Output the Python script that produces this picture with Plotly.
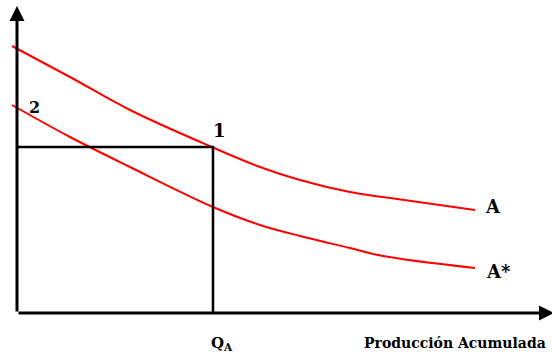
import plotly.graph_objects as go

# Cumulative production (x) and unit cost (y), arbitrary units
x_A = [-5, 53, 113, 196, 243, 283, 333, 366, 458]
y_A = [267, 236, 203, 165.5, 146, 133, 121, 116, 103]
x_Astar = [-5, 53, 113, 196, 243, 283, 333, 366, 458]
y_Astar = [208, 176, 146, 106, 88, 77, 65, 57, 45]
Q_A = 196
cost_1 = 166

X_MIN, X_MAX = -17, 535
Y_MIN, Y_MAX = -43, 313

RED = "#FF0000"
FONT = "DejaVu Serif"

fig = go.Figure()
fig.add_trace(go.Scatter(x=x_A, y=y_A, mode="lines",
                         line=dict(color=RED, width=2, shape="spline", smoothing=1.0),
                         hoverinfo="skip", showlegend=False))
fig.add_trace(go.Scatter(x=x_Astar, y=y_Astar, mode="lines",
                         line=dict(color=RED, width=2, shape="spline", smoothing=1.0),
                         hoverinfo="skip", showlegend=False))

# guide lines to point 1
fig.add_trace(go.Scatter(x=[0, Q_A, Q_A], y=[cost_1, cost_1, 0], mode="lines",
                         line=dict(color="black", width=2.5),
                         hoverinfo="skip", showlegend=False))

# axes with arrows
fig.add_annotation(x=0, y=Y_MAX - 6, ax=0, ay=0, xref="x", yref="y", axref="x", ayref="y",
                   showarrow=True, arrowhead=2, arrowsize=1, arrowwidth=3, arrowcolor="black", text="")
fig.add_annotation(x=X_MAX + 2, y=0, ax=0, ay=0, xref="x", yref="y", axref="x", ayref="y",
                   showarrow=True, arrowhead=2, arrowsize=1, arrowwidth=3, arrowcolor="black", text="")

def label(txt, x, y, size, xanchor="center"):
    fig.add_annotation(x=x, y=y, xref="x", yref="y", text=txt, showarrow=False,
                       xanchor=xanchor, yanchor="middle",
                       font=dict(family=FONT, size=size, color="black"))

label("<b>1</b>", 202, 182.5, 18)
label("<b>2</b>", 17.5, 206, 16)
label("<b>A</b>", 476, 107, 18)
label("<b>A*</b>", 481, 42, 18)
label("<b>Q<sub>A</sub></b>", 205, -30, 15)
label("<b>Producción Acumulada</b>", 345, -30, 14, xanchor="left")

fig.update_layout(
    width=552, height=356,
    margin=dict(l=0, r=0, t=0, b=0),
    paper_bgcolor="white", plot_bgcolor="white",
    xaxis=dict(range=[X_MIN, X_MAX], visible=False, fixedrange=True),
    yaxis=dict(range=[Y_MIN, Y_MAX], visible=False, fixedrange=True),
)

fig.write_html("out.html", config={"displayModeBar": False},
               post_script="document.body.style.margin='0';document.body.style.overflow='hidden';")
